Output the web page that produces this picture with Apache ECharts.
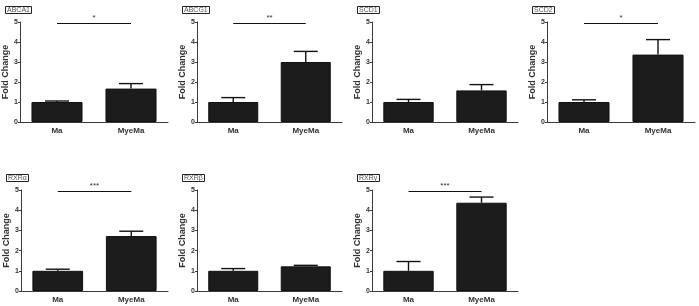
<!DOCTYPE html>
<html>
<head>
<meta charset="utf-8">
<script src="https://cdn.jsdelivr.net/npm/echarts@6/dist/echarts.min.js"></script>
<style>
  html, body { margin: 0; padding: 0; background: #fff; }
  #main { width: 699px; height: 306px; }
</style>
</head>
<body>
<div id="main"></div>
<script>
// data
const genes = ['ABCA1', 'ABCG1', 'SCD1', 'SCD2', 'RXRα', 'RXRβ', 'RXRγ'];
const groups = ['Ma', 'MyeMa'];
const means = [[1.0, 1.67], [1.0, 3.0], [1.0, 1.58], [1.0, 3.37], [1.0, 2.72], [1.0, 1.22], [1.0, 4.37]];
const errTops = [[1.05, 1.92], [1.22, 3.53], [1.13, 1.87], [1.11, 4.12], [1.08, 2.96], [1.11, 1.27], [1.46, 4.65]];
const stars = ['*', '**', '', '*', '***', '', '***'];
const yTicks = [0, 1, 2, 3, 4, 5];

// panel boxes: [left, right edge, top, bottom]
const boxes = [
    [20, 168, 22, 122], [197, 342, 22, 122], [372, 518, 22, 122], [547, 695, 22, 122],
    [21, 168, 190, 291], [197, 342, 190, 291], [372, 518, 190, 291]
];

const axisColor = '#3a3a3a';
let grid = [], xAxis = [], yAxis = [], series = [], title = [];

genes.forEach(function (g, i) {
    let b = boxes[i];
    grid.push({ left: b[0], top: b[2], width: b[1] - b[0], height: b[3] - b[2] });
    title.push({
        text: g,
        left: b[0] - 15,
        top: b[2] - 16,
        padding: [1, 2, 0, 2],
        borderColor: '#222',
        borderWidth: 1,
        textStyle: { fontSize: 7, fontWeight: 'normal', color: '#555', fontFamily: 'Liberation Sans' }
    });
    xAxis.push({
        type: 'category',
        gridIndex: i,
        data: groups,
        axisLine: { lineStyle: { color: axisColor, width: 1 } },
        axisTick: { alignWithLabel: true, length: 2, lineStyle: { color: axisColor } },
        axisLabel: { fontSize: 8, fontWeight: 'bold', color: '#333', margin: 5, fontFamily: 'Liberation Sans' }
    });
    yAxis.push({
        type: 'value',
        gridIndex: i,
        min: 0,
        max: 5,
        interval: 1,
        name: 'Fold Change',
        nameLocation: 'middle',
        nameGap: 7,
        nameTextStyle: { fontSize: 9, fontWeight: 'bold', color: '#333', fontFamily: 'Liberation Sans' },
        axisLine: { show: true, lineStyle: { color: axisColor, width: 1 } },
        axisTick: { show: true, length: 2, lineStyle: { color: axisColor } },
        axisLabel: {
            fontSize: 7, fontWeight: 'bold', color: '#333', margin: 2, fontFamily: 'Liberation Sans',
            formatter: function (v) { return yTicks.indexOf(v) >= 0 ? String(v) : ''; }
        },
        splitLine: { show: false }
    });

    let bar = {
        type: 'bar',
        xAxisIndex: i,
        yAxisIndex: i,
        data: means[i],
        barWidth: '69%',
        itemStyle: { color: '#1c1c1c', borderColor: '#111', borderWidth: 1 },
        silent: true,
        z: 2
    };
    if (stars[i]) {
        bar.markLine = {
            silent: true,
            symbol: 'none',
            lineStyle: { color: '#111', width: 1.2, type: 'solid' },
            label: { show: true, position: 'middle', formatter: stars[i], fontSize: 8, color: '#333', distance: 1 },
            data: [[{ coord: ['Ma', 4.95] }, { coord: ['MyeMa', 4.95] }]]
        };
    }
    series.push(bar);

    // upper error bars
    series.push({
        type: 'custom',
        xAxisIndex: i,
        yAxisIndex: i,
        silent: true,
        z: 3,
        data: groups.map(function (c, k) { return [k, means[i][k], errTops[i][k]]; }),
        renderItem: function (params, api) {
            let base = api.coord([api.value(0), api.value(1)]);
            let top = api.coord([api.value(0), api.value(2)]);
            let hw = 12;
            let st = { stroke: '#111', lineWidth: 1.4 };
            return {
                type: 'group',
                children: [
                    { type: 'line', shape: { x1: base[0], y1: base[1], x2: top[0], y2: top[1] }, style: st },
                    { type: 'line', shape: { x1: top[0] - hw, y1: top[1], x2: top[0] + hw, y2: top[1] }, style: st }
                ]
            };
        }
    });
});

let chart = echarts.init(document.getElementById('main'));
chart.setOption({
    animation: false,
    backgroundColor: '#fff',
    title: title,
    grid: grid,
    xAxis: xAxis,
    yAxis: yAxis,
    series: series
});
</script>
</body>
</html>
